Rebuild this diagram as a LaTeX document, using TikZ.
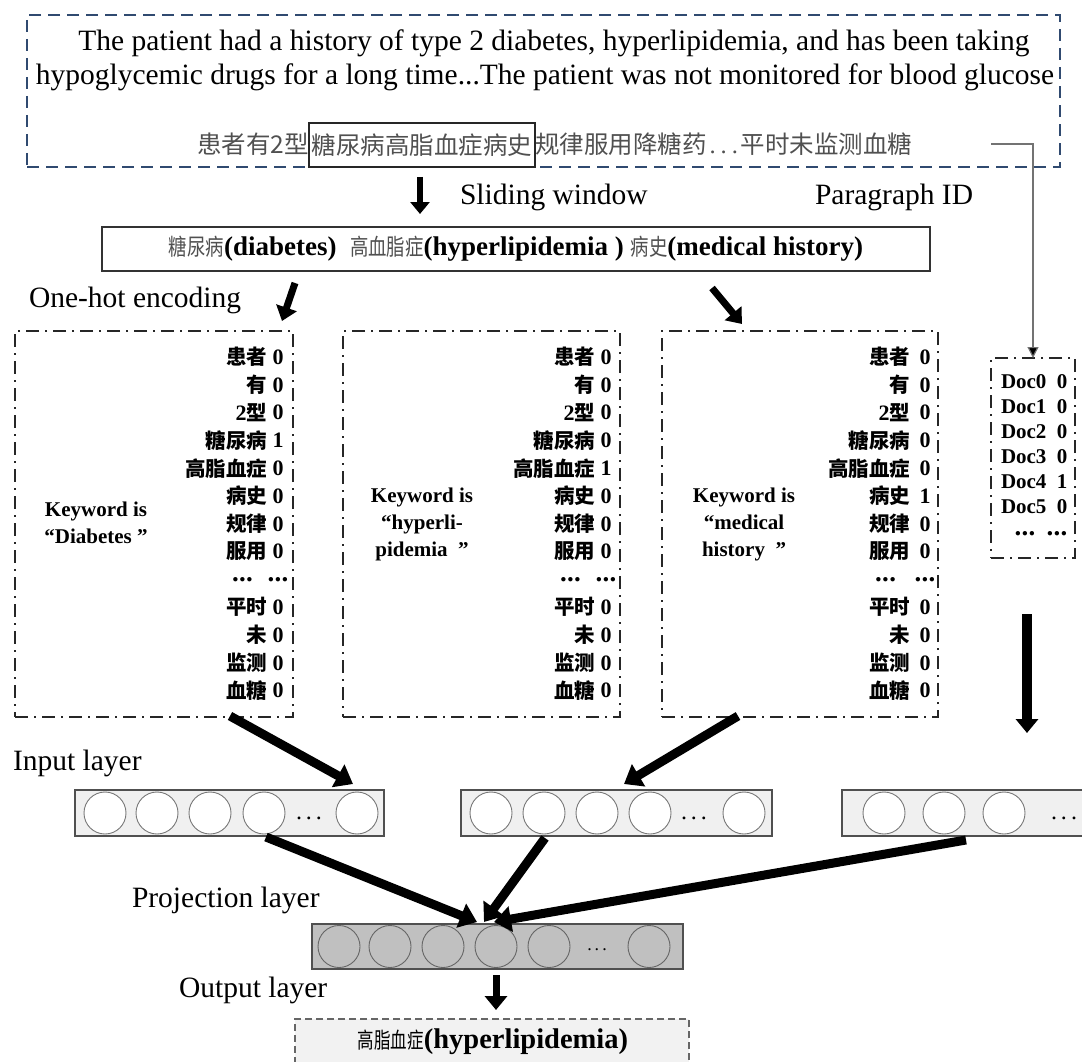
\documentclass[tikz,border=0pt]{standalone}
\usepackage{fontspec}
\usepackage{graphicx}
\setmainfont{Liberation Serif}
\newfontfamily\zhfont{Noto Sans CJK SC}
\usetikzlibrary{arrows.meta}
\definecolor{navy}{RGB}{48,74,112}
\definecolor{zhgray}{RGB}{80,80,80}
\definecolor{lfill}{RGB}{240,240,240}
\definecolor{pfill}{RGB}{192,192,192}
\definecolor{ofill}{RGB}{242,242,242}
\definecolor{cedge}{RGB}{120,120,120}
\definecolor{redge}{RGB}{80,80,80}
\newcommand\fsz[1]{\fontsize{#1}{#1}\selectfont}
\newcommand\zhz[2]{{\fontsize{#1}{#1}\selectfont\zhfont #2}}
\newcommand\zr[1]{\zhz{20.5}{#1}}
\newcommand\zw[1]{{\color{zhgray}\mdseries\scalebox{0.8}[1]{\fontsize{23}{23}\selectfont\zhfont #1}}}
\newcommand\rdots{{\fontsize{27}{27}\selectfont.\kern0.3pt.\kern0.3pt.}}
\newcommand\ldotsgap{\rdots\kern14pt}
\begin{document}
\begin{tikzpicture}[x=1pt,y=-1pt,
  every node/.style={inner sep=0pt,outer sep=0pt},
  lbl/.style={font=\fsz{29.5}, anchor=west},
  bigarrow/.style={line width=9pt, -{Triangle[length=17pt,width=25pt]}},
  midarrow/.style={line width=7pt, -{Triangle[length=14pt,width=21pt]}},
  onebox/.style={draw=black!85, line width=1.6pt, dash pattern=on 13pt off 6pt on 2pt off 6pt},
  rowtxt/.style={font=\fsz{22}\bfseries},
  kw/.style={font=\fontsize{21}{27}\selectfont\bfseries, align=center},
  docrow/.style={font=\fsz{21}\bfseries},
  circ/.style={circle, draw=cedge, line width=0.9pt, minimum size=42pt},
  layer/.style={draw=redge, line width=1.6pt, minimum height=46pt},
]
\useasboundingbox (0,0) rectangle (1082,1062);

% ---------- top text box ----------
\node[draw=navy, line width=2pt, dash pattern=on 12pt off 7pt, minimum width=1033pt, minimum height=152pt] (top) at (543.5,91) {};
\node[font=\fsz{29.5}] (t1) at (554,43) {The patient had a history of type 2 diabetes, hyperlipidemia, and has been taking};
\node[font=\fsz{29.5}] (t2) at (545,77) {hypoglycemic drugs for a long time...The patient was not monitored for blood glucose};
\node[anchor=east, text=zhgray, font=\fsz{24.5}\zhfont] (z1) at (309,144) {患者有2型};
\node[draw=black!85, line width=1.3pt, minimum width=226pt, minimum height=44pt, text=zhgray, font=\fsz{24.5}\zhfont] (z2) at (422,145) {糖尿病高脂血症病史};
\node[anchor=west, text=zhgray, font=\fsz{24.5}] (z3) at (535,144) {{\zhfont 规律服用降糖药}\hspace{3pt}.\hspace{5pt}.\hspace{5pt}.\hspace{3pt}{\zhfont 平时未监测血糖}};

% ---------- labels ----------
\node[lbl] (sw) at (460,197) {Sliding window};
\node[lbl] (pid) at (815,197) {Paragraph ID};
\node[lbl] (ohe) at (29,300) {One-hot encoding};
\node[lbl] (inl) at (13,763) {Input layer};
\node[lbl] (prl) at (132,900) {Projection layer};
\node[lbl] (oul) at (179,990) {Output layer};

% ---------- sliding window box ----------
\node[draw=black!80, line width=1.8pt, minimum width=828pt, minimum height=44pt] (win) at (516,249) {};
\node[font=\fsz{27}\bfseries] (wint) at (516,249) {\zw{糖尿病}(diabetes)\ \ \zw{高血脂症}(hyperlipidemia )\ \zw{病史}(medical history)};

% ---------- one-hot boxes ----------
\node[onebox, minimum width=278pt, minimum height=386pt] (b1) at (154,524) {};
\node[onebox, minimum width=277pt, minimum height=386pt] (b2) at (481.5,524) {};
\node[onebox, minimum width=276pt, minimum height=386pt] (b3) at (800,524) {};

\foreach \lab/\v [count=\k] in {\zr{患者}/0, \zr{有}/0, 2\zr{型}/0, \zr{糖尿病}/1, \zr{高脂血症}/0, \zr{病史}/0, \zr{规律}/0, \zr{服用}/0, \ldotsgap/\rdots, \zr{平时}/0, \zr{未}/0, \zr{监测}/0, \zr{血糖}/0}{
  \node[rowtxt, anchor=east] (b1l\k) at (267,{357+27.8*(\k-1)}) {\lab};
  \node[rowtxt] (b1v\k) at (278,{357+27.8*(\k-1)}) {\v};
}
\foreach \lab/\v [count=\k] in {\zr{患者}/0, \zr{有}/0, 2\zr{型}/0, \zr{糖尿病}/0, \zr{高脂血症}/1, \zr{病史}/0, \zr{规律}/0, \zr{服用}/0, \ldotsgap/\rdots, \zr{平时}/0, \zr{未}/0, \zr{监测}/0, \zr{血糖}/0}{
  \node[rowtxt, anchor=east] (b2l\k) at (595,{357+27.8*(\k-1)}) {\lab};
  \node[rowtxt] (b2v\k) at (606,{357+27.8*(\k-1)}) {\v};
}
\foreach \lab/\v [count=\k] in {\zr{患者}/0, \zr{有}/0, 2\zr{型}/0, \zr{糖尿病}/0, \zr{高脂血症}/0, \zr{病史}/1, \zr{规律}/0, \zr{服用}/0, \ldotsgap/\rdots, \zr{平时}/0, \zr{未}/0, \zr{监测}/0, \zr{血糖}/0}{
  \node[rowtxt, anchor=east] (b3l\k) at (910,{357+27.8*(\k-1)}) {\lab};
  \node[rowtxt] (b3v\k) at (925,{357+27.8*(\k-1)}) {\v};
}
\node[kw] (kw1) at (96,523) {Keyword is\\“Diabetes ”};
\node[kw] (kw2) at (422,524) {Keyword is\\“hyperli-\\pidemia\ \ ”};
\node[kw] (kw3) at (744,524) {Keyword is\\“medical\\history\ \ ”};

% ---------- doc box ----------
\node[onebox, minimum width=84pt, minimum height=200pt] (doc) at (1033,458) {};
\foreach \v [count=\k] in {0,0,0,0,1,0}{
  \pgfmathtruncatemacro\dn{\k-1}
  \node[docrow, anchor=west] (dl\k) at (1001,{382+25*(\k-1)}) {Doc\dn};
  \node[docrow] (dv\k) at (1062,{382+25*(\k-1)}) {\v};
}
\node[docrow] (dd1) at (1025,534) {\rdots};
\node[docrow] (dd2) at (1057,534) {\rdots};

% paragraph id connector
\coordinate (pstart) at (991,144);
\draw[draw=black!55, line width=1.2pt, -{Triangle[length=11pt,width=11pt,fill=black]}] (pstart) -| (doc.north);

% ---------- input layers ----------
\node[layer, fill=lfill, minimum width=309pt] (in1) at (229.5,813) {};
\foreach \x [count=\i] in {105,157,210,264,357} \node[circ, fill=white] (in1c\i) at (\x,813) {};
\node[font=\fsz{24}] (in1d) at (309,818) {.\hspace{4pt}.\hspace{4pt}.};

\node[layer, fill=lfill, minimum width=311pt] (in2) at (616.5,813) {};
\foreach \x [count=\i] in {491,544,597,650,744} \node[circ, fill=white] (in2c\i) at (\x,813) {};
\node[font=\fsz{24}] (in2d) at (694,818) {.\hspace{4pt}.\hspace{4pt}.};

\node[layer, fill=lfill, minimum width=260pt] (in3) at (972,813) {};
\foreach \x [count=\i] in {884,944,1004} \node[circ, fill=white] (in3c\i) at (\x,813) {};
\node[font=\fsz{24}] (in3d) at (1064,818) {.\hspace{4pt}.\hspace{4pt}.};

% ---------- projection layer ----------
\node[layer, fill=pfill, minimum width=371pt, minimum height=45pt] (proj) at (497.5,946.5) {};
\foreach \x [count=\i] in {339,390,443,496,549,649} \node[circ, fill=pfill, draw=black!60] (pc\i) at (\x,946.5) {};
\node[font=\fsz{18}] (pd) at (597,950) {.\hspace{3pt}.\hspace{3pt}.};

% ---------- output ----------
\node[draw=black!60, line width=1.3pt, dash pattern=on 7pt off 4pt, fill=ofill, minimum width=394pt, minimum height=54pt] (out) at (492,1046) {};
\node[font=\fsz{28.5}\bfseries] (outt) at (493,1042) {{\mdseries\scalebox{0.75}[1]{\fontsize{22}{22}\selectfont\zhfont 高脂血症}}(hyperlipidemia)};

% ---------- arrows ----------
\coordinate (sa1) at (420,177);
\coordinate (sa2) at (420,214);
\draw[line width=6pt, -{Triangle[length=12pt,width=19pt]}] (sa1) -- (sa2);

\coordinate (oa1) at (295,283);
\coordinate (oa2) at (282,321);
\draw[midarrow] (oa1) -- (oa2);
\coordinate (ob1) at (712,288);
\coordinate (ob2) at (742,324);
\draw[midarrow] (ob1) -- (ob2);

\coordinate (a1s) at (230,716);
\coordinate (a1e) at (353,784);
\draw[bigarrow] (a1s) -- (a1e);
\coordinate (a2s) at (738,716);
\coordinate (a2e) at (624,784);
\draw[bigarrow] (a2s) -- (a2e);
\coordinate (a3s) at (1027,614);
\coordinate (a3e) at (1027,733);
\draw[line width=10pt, -{Triangle[length=14pt,width=22pt]}] (a3s) -- (a3e);

\coordinate (p1s) at (266,837);
\coordinate (p1e) at (477,922);
\draw[bigarrow] (p1s) -- (p1e);
\coordinate (p2s) at (545,838);
\coordinate (p2e) at (484,922);
\draw[bigarrow] (p2s) -- (p2e);
\coordinate (p3s) at (966,840);
\coordinate (p3e) at (494,922);
\draw[bigarrow] (p3s) -- (p3e);

\coordinate (os) at (496,975);
\coordinate (oe) at (496,1010);
\draw[line width=7pt, -{Triangle[length=14pt,width=22pt]}] (os) -- (oe);
\end{tikzpicture}
\end{document}
